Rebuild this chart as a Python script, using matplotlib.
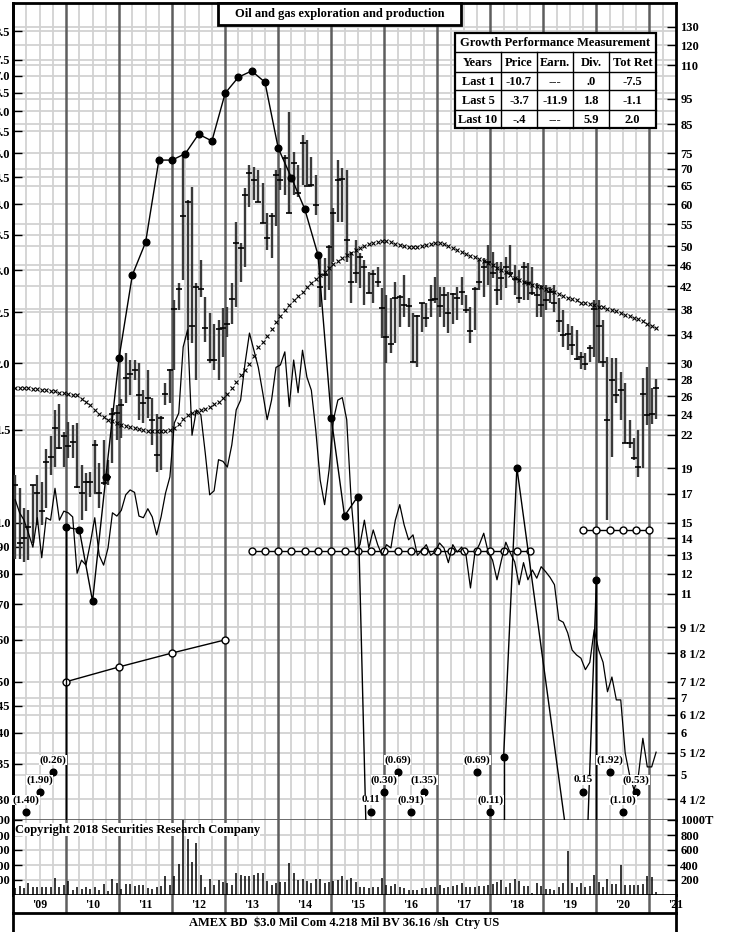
import numpy as np
import matplotlib.pyplot as plt
from matplotlib.patches import Rectangle
from matplotlib.ticker import NullLocator, NullFormatter

plt.rcParams['font.family'] = ['Liberation Serif', 'DejaVu Serif']
plt.rcParams['font.weight'] = 'bold'
plt.rcParams['font.size'] = 9

W, H = 730, 932
DARK = '#5e5e5e'
LIGHT = '#d2d2d2'

# monthly price bars, Jan 2009 .. Feb 2021
high = [18.45, 17.45, 16.0, 15.85, 17.7, 18.45, 17.9, 20.7, 21.9, 24.5, 25.1, 22.25,
        23.2, 22.9, 23.1, 19.25, 18.6, 18.7, 21.5, 19.45, 21.5, 19.7, 24.7, 25.0,
        25.7, 31.4, 30.45, 30.45, 30.0, 26.7, 29.2, 25.8, 24.1, 23.9, 27.5, 29.3,
        39.5, 42.6, 74.7, 61.1, 64.7, 42.6, 47.1, 40.0, 37.4, 35.7, 36.2, 38.2,
        38.3, 42.6, 55.5, 50.7, 64.4, 71.2, 70.6, 69.7, 65.8, 57.7, 57.7, 69.7,
        70.3, 74.3, 89.7, 75.3, 71.2, 81.1, 79.4, 73.7, 68.2, 48.1, 47.5, 50.3,
        59.0, 72.8, 70.3, 69.7, 48.8, 51.4, 48.5, 47.1, 44.7, 45.1, 45.7, 41.7,
        40.4, 39.9, 42.7, 40.4, 44.1, 39.9, 37.4, 37.0, 39.1, 39.1, 42.2, 43.7,
        41.8, 41.8, 40.9, 40.8, 41.8, 43.7, 40.4, 38.3, 41.8, 47.1, 47.5, 50.3,
        48.8, 46.7, 46.7, 47.7, 50.3, 46.1, 45.1, 46.7, 46.5, 45.7, 42.6, 42.2,
        42.2, 41.8, 42.2, 39.9, 37.9, 35.7, 35.3, 34.7, 31.5, 31.4, 32.5, 39.5,
        39.5, 36.2, 30.8, 30.7, 30.7, 28.9, 27.5, 23.5, 21.7, 22.45, 28.2, 29.6,
        27.0, 28.0]
low = [12.8, 12.8, 12.65, 12.75, 13.75, 14.85, 14.85, 16.0, 18.45, 19.1, 20.7, 19.1,
       19.9, 19.9, 17.45, 15.2, 15.75, 16.75, 17.0, 16.0, 17.7, 17.7, 19.45, 21.5,
       21.65, 25.2, 26.1, 27.9, 23.45, 23.1, 23.7, 21.0, 18.7, 18.9, 25.0, 25.2,
       29.2, 37.9, 43.1, 33.2, 32.8, 27.9, 40.0, 32.9, 30.0, 29.2, 27.9, 30.8,
       33.6, 35.7, 38.3, 42.7, 45.7, 59.3, 61.1, 60.6, 55.2, 49.2, 47.5, 54.7,
       63.8, 62.5, 57.7, 62.5, 62.0, 65.3, 65.3, 64.7, 57.2, 38.3, 39.5, 41.3,
       46.7, 55.5, 55.5, 46.7, 39.0, 42.6, 41.7, 38.7, 40.8, 39.0, 41.8, 33.5,
       30.0, 31.4, 32.8, 35.1, 36.7, 35.1, 30.2, 29.5, 34.4, 35.1, 36.7, 39.0,
       36.7, 35.1, 34.2, 35.7, 36.2, 38.7, 37.4, 32.8, 34.7, 41.3, 40.0, 42.2,
       43.5, 38.7, 39.5, 41.7, 44.1, 40.4, 39.0, 39.5, 39.5, 40.4, 36.7, 36.7,
       37.9, 39.0, 37.5, 34.4, 32.2, 31.8, 31.1, 30.45, 29.3, 29.2, 30.2, 30.8,
       30.0, 29.5, 15.2, 19.95, 25.3, 23.45, 21.2, 20.8, 19.7, 18.3, 19.0, 22.9,
       23.0, 23.6]
close = [17.7, 13.7, 14.0, 14.7, 17.7, 17.1, 15.8, 19.5, 19.95, 22.6, 20.8, 21.9,
         20.9, 21.3, 17.5, 17.1, 17.9, 17.9, 21.0, 17.05, 17.8, 18.3, 24.1, 24.2,
         25.0, 28.2, 28.7, 29.2, 26.1, 25.3, 25.8, 23.45, 20.1, 23.7, 26.3, 29.2,
         38.0, 41.5, 57.0, 60.6, 35.3, 41.8, 41.5, 35.0, 30.45, 30.45, 34.8, 35.0,
         35.7, 39.7, 50.7, 49.6, 62.5, 68.8, 66.7, 60.6, 55.2, 51.8, 57.0, 68.2,
         66.7, 73.4, 57.7, 71.8, 63.0, 78.3, 65.0, 65.3, 59.8, 41.8, 44.1, 49.8,
         57.7, 66.7, 67.0, 51.4, 42.7, 44.5, 47.7, 45.7, 40.8, 44.3, 42.7, 38.2,
         33.6, 32.6, 39.9, 40.0, 38.7, 38.5, 30.2, 36.9, 39.1, 36.5, 39.5, 39.7,
         38.5, 40.4, 37.4, 40.6, 39.9, 40.9, 37.9, 34.5, 41.5, 42.7, 45.7, 46.7,
         44.5, 41.3, 43.5, 45.7, 44.5, 43.3, 39.9, 45.7, 42.6, 40.8, 40.4, 38.7,
         39.5, 40.9, 39.0, 36.1, 33.9, 34.1, 32.5, 30.6, 30.8, 29.9, 32.1, 38.0,
         35.3, 30.2, 23.45, 27.9, 26.2, 26.7, 21.2, 21.2, 19.9, 19.1, 26.3, 24.0,
         24.1, 27.0]

# monthly volume, thousands of shares
volume = [89, 120, 89, 156, 111, 102, 102, 111, 111, 222, 102, 133,
          191, 67, 102, 84, 102, 84, 102, 67, 147, 58, 209, 164,
          76, 147, 144, 120, 133, 133, 89, 84, 111, 120, 258, 133,
          253, 413, 1022, 747, 444, 698, 267, 111, 209, 133, 200, 178,
          156, 133, 289, 267, 253, 253, 267, 289, 298, 191, 133, 156,
          178, 178, 422, 298, 200, 209, 191, 156, 209, 209, 156, 178,
          191, 200, 253, 200, 222, 178, 111, 102, 89, 102, 102, 222,
          133, 120, 144, 102, 89, 67, 67, 67, 89, 89, 111, 111,
          133, 89, 111, 120, 133, 164, 111, 102, 102, 120, 120, 133,
          147, 178, 200, 111, 156, 209, 191, 120, 120, 22, 156, 120,
          76, 76, 67, 102, 156, 587, 156, 102, 156, 102, 120, 267,
          178, 102, 209, 147, 147, 400, 133, 133, 133, 133, 147, 253,
          244, 44]

# moving average of price
ma = [27.0, 26.9, 26.9, 26.9, 26.8, 26.8, 26.7, 26.7, 26.6, 26.6, 26.4, 26.4,
      26.3, 26.2, 26.1, 25.7, 25.4, 25.0, 24.5, 24.1, 23.8, 23.5, 23.3, 23.1,
      22.9, 22.8, 22.7, 22.6, 22.55, 22.45, 22.35, 22.35, 22.35, 22.35, 22.35, 22.45,
      22.6, 23.0, 23.6, 24.0, 24.2, 24.3, 24.5, 24.6, 24.85, 25.1, 25.4, 25.8,
      26.3, 27.0, 27.7, 28.5, 29.2, 29.9, 31.0, 32.2, 32.9, 33.8, 34.8, 35.9,
      36.9, 37.9, 38.7, 39.5, 40.2, 40.9, 41.8, 42.6, 43.3, 44.1, 44.7, 45.5,
      46.3, 46.9, 47.5, 48.1, 48.5, 49.2, 49.6, 50.0, 50.5, 50.7, 50.9, 51.2,
      51.2, 50.9, 50.5, 50.3, 50.0, 49.8, 49.8, 49.8, 50.0, 50.3, 50.5, 50.7,
      50.7, 50.5, 50.0, 49.6, 49.2, 48.8, 48.3, 47.9, 47.7, 47.3, 46.9, 46.5,
      46.1, 45.5, 45.1, 44.7, 44.1, 43.5, 43.1, 42.7, 42.6, 42.2, 42.0, 41.8,
      41.5, 41.3, 40.9, 40.6, 40.2, 39.9, 39.7, 39.5, 39.1, 39.0, 38.8, 38.7,
      38.4, 38.3, 38.1, 37.9, 37.7, 37.4, 37.0, 36.9, 36.5, 36.4, 36.1, 35.7,
      35.3, 35.0]

# relative strength (arbitrary units 0-100)
rel_strength = [39.2, 37.6, 36.7, 35.1, 33.4, 37.0, 32.1, 37.0, 36.7, 40.6, 36.7, 37.8,
                37.6, 37.1, 30.2, 31.8, 31.2, 33.9, 37.0, 32.4, 31.2, 33.3, 37.6, 37.2,
                37.9, 39.8, 40.4, 40.1, 37.2, 37.0, 38.1, 37.1, 34.9, 37.1, 40.0, 42.0,
                48.6, 49.8, 57.9, 60.0, 47.1, 50.2, 49.6, 44.9, 39.8, 40.3, 44.1, 43.9,
                43.2, 45.9, 50.2, 51.4, 55.9, 59.6, 57.5, 55.4, 52.3, 49.0, 51.4, 55.4,
                55.7, 57.3, 50.6, 56.3, 52.3, 57.5, 54.2, 52.6, 47.7, 41.6, 38.6, 42.8,
                49.0, 51.4, 51.7, 49.0, 39.2, 33.0, 33.7, 36.7, 33.3, 35.5, 33.7, 32.4,
                33.7, 33.3, 36.7, 38.6, 36.1, 34.3, 34.9, 32.4, 33.0, 33.7, 32.4, 32.8,
                33.9, 33.3, 31.5, 33.7, 32.8, 33.4, 32.4, 28.4, 32.7, 33.7, 35.1, 32.8,
                31.8, 29.4, 31.8, 34.0, 32.7, 31.6, 28.8, 31.5, 29.4, 30.6, 29.6, 31.0,
                30.4, 29.7, 28.8, 24.5, 24.2, 22.9, 20.8, 20.2, 19.8, 18.4, 19.3, 23.3,
                20.8, 19.3, 15.7, 17.5, 14.7, 14.7, 8.2, 5.5, 3.7, 5.5, 10.0, 6.5,
                6.5, 8.3]

# quarterly 12-month earnings per share from 2009 Q2; negative = deficit, None = not shown
eps_start = 2009.25
eps = [-1.40, -1.90, -0.26,
       0.98, 0.97, 0.71, 1.22,
       2.05, 2.94, 3.39, 4.85,
       4.85, 4.99, 5.43, 5.27,
       6.49, 6.96, 7.15, 6.81,
       5.11, 4.49, 3.92, 3.21,
       1.58, 1.03, 1.12, 0.11,
       -0.30, -0.69, -0.91, -1.35,
       None, None, None, -0.69,
       -0.11, 0.36, 1.27, None,
       None, None, None, 0.15,
       0.78, -1.92, -1.10, -0.53]
EPS_FACTOR = 15      # earnings scale = price / 15

# dividends (annual rate), three runs
div_t = [[2010.0, 2011.0, 2012.0, 2013.0],
         list(2013.5 + 0.25 * np.arange(22)),
         list(2019.75 + 0.25 * np.arange(6))]
div_v = [[0.30, 0.32, 0.34, 0.36],
         [0.53] * 22,
         [0.58] * 6]
DIV_FACTOR = 25

price_ticks = [130, 120, 110, 95, 85, 75, 70, 65, 60, 55, 50, 46, 42, 38, 34, 30, 28, 26,
               24, 22, 19, 17, 15, 14, 13, 12, 11, 9.5, 8.5, 7.5, 7, 6.5, 6, 5.5, 5, 4.5]
eps_ticks = [8.5, 7.5, 7.0, 6.5, 6.0, 5.5, 5.0, 4.5, 4.0, 3.5, 3.0, 2.5, 2.0, 1.5, 1.0,
             0.9, 0.8, 0.7, 0.6, 0.5, 0.45, 0.4, 0.35, 0.3]
eps_labels = ['8.5', '7.5', '7.0', '6.5', '6.0', '5.5', '5.0', '4.5', '4.0', '3.5', '3.0',
              '2.5', '2.0', '1.5', '1.0', '.90', '.80', '.70', '.60', '.50', '.45', '.40',
              '.35', '.30']
vol_ticks = [1000, 800, 600, 400, 200]

table_rows = [['Years', 'Price', 'Earn.', 'Div.', 'Tot Ret'],
              ['Last 1', '-10.7', '---', '.0', '-7.5'],
              ['Last 5', '-3.7', '-11.9', '1.8', '-1.1'],
              ['Last 10', '-.4', '---', '5.9', '2.0']]


def frac_label(v):
    if v % 1 == 0.5 and v < 10:
        return '%d 1/2' % int(v)
    return '%g' % v


def rect(x0, y0, x1, y1):
    return [x0 / W, 1 - y1 / H, (x1 - x0) / W, (y1 - y0) / H]


fig = plt.figure(figsize=(W / 100, H / 100), dpi=100)
ax = fig.add_axes(rect(13, 3, 676, 820))
axv = fig.add_axes(rect(13, 820, 676, 895))
axy = fig.add_axes(rect(13, 895, 676, 913))
X0, X1 = 2009.0, 2021.5
for a in (ax, axv, axy):
    a.set_xlim(X0, X1)
    a.set_xticks([])
    for s in a.spines.values():
        s.set_linewidth(2)
ax.spines['bottom'].set_color(DARK)
axv.spines['top'].set_visible(False)
axy.spines['top'].set_visible(False)

months = 2009 + (np.arange(len(high)) + 0.5) / 12

# ---- price panel
ax.set_yscale('log')
ax.set_ylim(4.107, 144.2)
lo = ax.get_ylim()[0]

for q in np.arange(2009.25, 2021.5, 0.25):
    yearline = abs(q - round(q)) < 1e-9
    for a in (ax, axv):
        a.axvline(q, color=DARK if yearline else LIGHT, lw=1.8 if yearline else 1.3,
                  zorder=1 if yearline else 0)
    if yearline:
        axy.axvline(q, color=DARK, lw=1.8)

grid_levels = sorted(set(price_ticks) | {e * EPS_FACTOR for e in eps_ticks})
for g in grid_levels:
    ax.axhline(g, color=LIGHT, lw=1.3, zorder=0)
for g in vol_ticks[1:]:
    axv.axhline(g, color=LIGHT, lw=1.3, zorder=0)

ax.yaxis.tick_right()
ax.set_yticks(price_ticks, [frac_label(v) for v in price_ticks])
ax.yaxis.set_minor_locator(NullLocator())
ax.yaxis.set_minor_formatter(NullFormatter())
ax.tick_params(axis='y', direction='in', length=6.5, width=1, pad=3, labelsize=9)

sec = ax.secondary_yaxis('left', functions=(lambda p: p / EPS_FACTOR,
                                            lambda e: e * EPS_FACTOR))
sec.set_yticks(eps_ticks, eps_labels)
sec.yaxis.set_minor_locator(NullLocator())
sec.tick_params(direction='in', length=6.5, width=1, pad=2, labelsize=9)
sec.spines['left'].set_linewidth(2)

# price bars
ax.vlines(months, low, high, color='#3a3a3a', lw=1.7, zorder=3)
ax.plot(months, close, ls='none', marker='_', ms=4.5, mew=1.2, color='black', zorder=4)
# moving average
ax.plot(months[:len(ma)], ma, ls='none', marker='x', ms=2.8, mew=0.8, color='black', zorder=4)

# dividends
for t, v in zip(div_t, div_v):
    ax.plot(t, np.array(v) * DIV_FACTOR, '-o', color='black', lw=1, mfc='white',
            mec='black', ms=5, mew=1, zorder=5)

# earnings line
eps_t = eps_start + 0.25 * np.arange(len(eps))
pts = [(t, v) for t, v in zip(eps_t, eps) if v is not None]
seg_t, seg_v = [], []
for t, v in pts:
    if v < 0:
        if seg_t:
            ax.plot(seg_t, seg_v, color='black', lw=1, zorder=5)
        seg_t, seg_v = [], []
    else:
        seg_t.append(t)
        seg_v.append(v * EPS_FACTOR)
if seg_t:
    ax.plot(seg_t, seg_v, color='black', lw=1, zorder=5)
for (t0, v0), (t1, v1) in zip(pts[:-1], pts[1:]):
    if v0 >= 0 > v1:
        ax.vlines(t0, lo, v0 * EPS_FACTOR, color='black', lw=1, zorder=5)
    if v0 < 0 <= v1:
        ax.vlines(t1, lo, v1 * EPS_FACTOR, color='black', lw=1, zorder=5)

# relative strength and off-scale earnings, in an overlay sharing x
rs = fig.add_axes(rect(13, 3, 676, 820), sharex=ax)
rs.set_ylim(0, 100)
rs.axis('off')
rs.plot(months, rel_strength, color='black', lw=0.9)

rows = [0.0098, 0.0343, 0.0588]
trans = rs.get_xaxis_transform()
n_off = 0
for t, v in pts:
    if v * EPS_FACTOR < lo:
        yf = rows[n_off % 3]
        n_off += 1
        rs.plot(t, yf, 'o', ms=4.8, color='black', transform=trans, clip_on=False)
        lab = '(%.2f)' % abs(v) if v < 0 else '%.2f' % v
        rs.text(t, yf + 0.0147, lab, transform=trans, ha='center', va='center',
                fontsize=8, bbox=dict(fc='white', ec='none', pad=0.2))
    else:
        ax.plot(t, v * EPS_FACTOR, 'o', ms=4.8, color='black', zorder=6)

# ---- volume panel
axv.set_ylim(0, 1000)
axv.vlines(months, 0, volume, color='black', lw=1.1, zorder=3)
axv.yaxis.tick_right()
axv.set_yticks(vol_ticks, ['1000T', '800', '600', '400', '200'])
axv.tick_params(axis='y', direction='in', length=6.5, width=1, pad=3, labelsize=9)
secv = axv.secondary_yaxis('left')
secv.set_yticks(vol_ticks, [str(v) for v in vol_ticks])
secv.tick_params(direction='in', length=6.5, width=1, pad=2, labelsize=9)
secv.spines['left'].set_linewidth(2)
axv.text(0.003, 0.87, 'Copyright 2018 Securities Research Company', transform=axv.transAxes,
         ha='left', va='center', fontsize=9, zorder=2,
         bbox=dict(fc='white', ec='none', pad=0.3))

# ---- year strip
axy.set_ylim(0, 1)
axy.set_yticks([])
for yr in range(2009, 2022):
    axy.text(yr + 0.5, 0.42, "'%02d" % (yr % 100), ha='center', va='center',
             fontsize=8.5, clip_on=False)

# ---- overlay: title, table, footer
ov = fig.add_axes([0, 0, 1, 1])
ov.set_xlim(0, W)
ov.set_ylim(H, 0)
ov.axis('off')

ov.add_patch(Rectangle((218, 3), 243, 22, fc='white', ec='black', lw=2))
ov.text(339.5, 14.5, 'Oil and gas exploration and production', ha='center', va='center',
        fontsize=9)

cols = [455, 501, 537, 573, 609, 656]
rws = [33, 52, 72, 90, 110, 128]
ov.add_patch(Rectangle((cols[0], rws[0]), cols[-1] - cols[0], rws[-1] - rws[0],
                       fc='white', ec='black', lw=1.6))
for yline in rws[1:-1]:
    ov.plot([cols[0], cols[-1]], [yline, yline], color='black', lw=1)
for xline in cols[1:-1]:
    ov.plot([xline, xline], [rws[1], rws[-1]], color='black', lw=1)
ov.text((cols[0] + cols[-1]) / 2, (rws[0] + rws[1]) / 2 + 1, 'Growth Performance Measurement',
        ha='center', va='center', fontsize=9)
for r, row in enumerate(table_rows):
    for c, cell in enumerate(row):
        ov.text((cols[c] + cols[c + 1]) / 2, (rws[r + 1] + rws[r + 2]) / 2 + 1, cell,
                ha='center', va='center', fontsize=9)

ov.plot([13, 13], [913, 932], color='black', lw=2)
ov.plot([676, 676], [913, 932], color='black', lw=2)
ov.text(344.5, 923, 'AMEX BD  $3.0 Mil Com 4.218 Mil BV 36.16 /sh  Ctry US',
        ha='center', va='center', fontsize=9)

fig.savefig('out.png', dpi=100)
